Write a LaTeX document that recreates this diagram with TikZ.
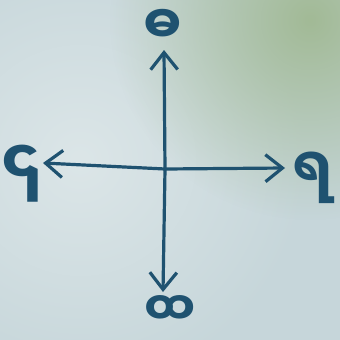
\documentclass[tikz,border=0pt]{standalone}
\usepackage{fontspec}
\newfontfamily\myanmarfont[Script=Myanmar]{Noto Sans Myanmar UI}
\definecolor{inkblue}{HTML}{1F5270}
\definecolor{paper}{HTML}{C6D6DA}
\definecolor{paperlight}{HTML}{DCE6E8}
\definecolor{papergreen}{HTML}{A2BA96}
\usetikzlibrary{arrows.meta, fadings}
\tikzfading[name=softspot, inner color=transparent!0, outer color=transparent!100]

\begin{document}
\begin{tikzpicture}[x=1pt,y=-1pt,
    glyph/.style={font=\myanmarfont\bfseries\fontsize{#1}{#1}\selectfont, text=inkblue, inner sep=0pt},
    glyph/.default=40,
    arr/.style={-{Straight Barb[length=17pt,width=27pt]}, draw=inkblue, line width=3.2pt, line cap=round}]
      \useasboundingbox (0,0) rectangle (340,340);
      \clip (0,0) rectangle (340,340);
      % paper
      \fill[paper] (0,0) rectangle (340,340);
      \fill[paperlight, path fading=softspot] (80,160) circle (230);
      \fill[papergreen, path fading=softspot] (310,20) circle (200);
      % cross
      \coordinate (c) at (165,169);
      \coordinate (ntip) at (164,50);
      \coordinate (etip) at (285,168);
      \coordinate (stip) at (163,292);
      \coordinate (wtip) at (43,163);
      \draw[arr] (c) -- (ntip);
      \draw[arr] (c) -- (etip);
      \draw[arr] (c) -- (stip);
      \draw[arr] (c) -- (wtip);
      % letters
      \node[glyph=54] (north) at (163,27) {ဓ};
      \node[glyph=56] (east) at (313,178) {ရ};
      \node[glyph=46] (south) at (170,311) {ထ};
      \node[glyph=62] (west) at (22,174) {၎};
   \end{tikzpicture}
\end{document}
